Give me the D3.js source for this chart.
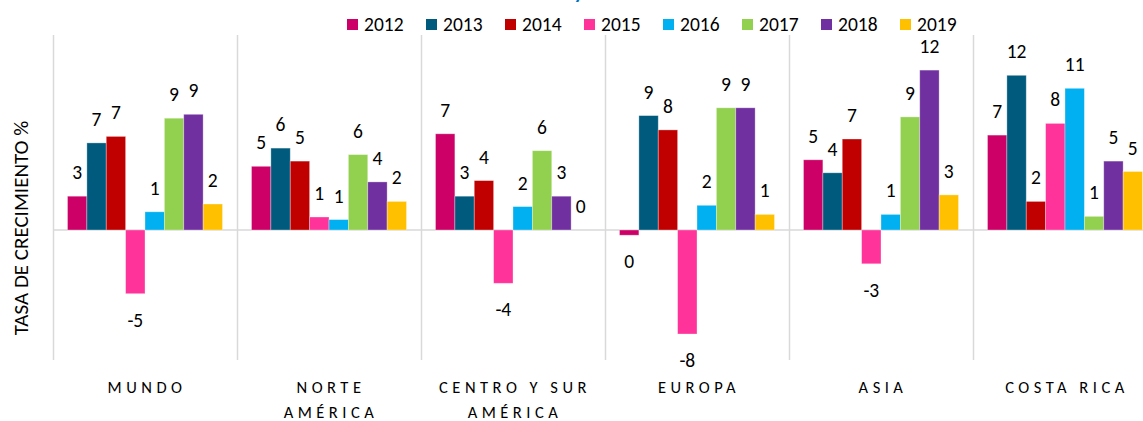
<!DOCTYPE html>
<html>
<head>
<meta charset="utf-8">
<script src="https://cdn.jsdelivr.net/npm/d3@7"></script>
<style>
    body { margin: 0; background: #fff; }
    text { font-family: Calibri, Carlito, "Liberation Sans", Arial, sans-serif; fill: #000; }
</style>
</head>
<body>
<div id="chart"></div>
<script>
// Regions (x-axis), two lines where the label wraps
const categories = ["MUNDO", "NORTE AMÉRICA", "CENTRO Y SUR AMÉRICA", "EUROPA", "ASIA", "COSTA RICA"];
const categoryLines = [["MUNDO"], ["NORTE", "AMÉRICA"], ["CENTRO Y SUR", "AMÉRICA"], ["EUROPA"], ["ASIA"], ["COSTA RICA"]];

const years = ["2012", "2013", "2014", "2015", "2016", "2017", "2018", "2019"];
const colors = ["#cc0066", "#005a7d", "#c00000", "#ff3399", "#00b0f0", "#92d050", "#7030a0", "#ffc000"];

// Growth rate per year, one value per region (same order as categories)
const values2012 = [2.6, 4.9, 7.4, -0.4, 5.4, 7.3];
const values2013 = [6.7, 6.3, 2.6, 8.8, 4.4, 11.9];
const values2014 = [7.2, 5.3, 3.8, 7.7, 7.0, 2.2];
const values2015 = [-4.9, 1.0, -4.1, -8.0, -2.6, 8.2];
const values2016 = [1.4, 0.8, 1.8, 1.9, 1.2, 10.9];
const values2017 = [8.6, 5.8, 6.1, 9.4, 8.7, 1.05];
const values2018 = [8.9, 3.7, 2.6, 9.4, 12.3, 5.3];
const values2019 = [2.0, 2.2, 0.0, 1.2, 2.7, 4.5];

const yDomain = [-10, 15];

const series = [values2012, values2013, values2014, values2015, values2016, values2017, values2018, values2019];

const WIDTH = 1143;
const HEIGHT = 421;
const PLOT_LEFT = 53;
const PLOT_TOP = 35;
const PLOT_BOTTOM = 360;
const GROUP_WIDTH = 184;

// Build flat table for the bars
let rows = [];
categories.forEach((cat, i) => {
    years.forEach((yr, j) => {
        rows.push({ category: cat, year: yr, value: series[j][i] });
    });
});

const svg = d3.select("#chart")
    .append("svg")
    .attr("width", WIDTH)
    .attr("height", HEIGHT);

// Scales
let xScale = d3.scaleBand()
    .domain(categories)
    .range([PLOT_LEFT, PLOT_LEFT + GROUP_WIDTH * categories.length])
    .padding(0);

let xSub = d3.scaleBand()
    .domain(years)
    .range([14.5, GROUP_WIDTH - 14.5])
    .padding(0);

let yScale = d3.scaleLinear()
    .domain(yDomain)
    .range([PLOT_BOTTOM, PLOT_TOP]);

let color = d3.scaleOrdinal()
    .domain(years)
    .range(colors);

// Partly hidden title above the chart
svg.append("text")
    .attr("x", 574)
    .attr("y", -1)
    .style("font-size", "20px")
    .style("font-weight", "bold")
    .style("fill", "#0070c0")
    .text("y");

// Vertical separators between regions
svg.append("g")
    .selectAll("line")
    .data(categories)
    .enter()
    .append("line")
    .attr("x1", d => xScale(d) + 0.5)
    .attr("x2", d => xScale(d) + 0.5)
    .attr("y1", PLOT_TOP)
    .attr("y2", PLOT_BOTTOM)
    .attr("stroke", "#d9d9d9")
    .attr("stroke-width", 1.5);

// Zero line
svg.append("line")
    .attr("x1", PLOT_LEFT)
    .attr("x2", WIDTH)
    .attr("y1", yScale(0))
    .attr("y2", yScale(0))
    .attr("stroke", "#d9d9d9")
    .attr("stroke-width", 1.5);

// Bars
const groups = svg.append("g")
    .selectAll("g")
    .data(categories)
    .enter()
    .append("g")
    .attr("transform", d => `translate(${xScale(d)},0)`);

groups.selectAll("rect")
    .data(d => rows.filter(r => r.category === d))
    .enter()
    .append("rect")
    .attr("x", d => xSub(d.year))
    .attr("y", d => yScale(Math.max(0, d.value)))
    .attr("width", xSub.bandwidth())
    .attr("height", d => Math.abs(yScale(d.value) - yScale(0)))
    .attr("fill", d => color(d.year))
    .attr("stroke", "#ffffff")
    .attr("stroke-opacity", 0.4)
    .attr("stroke-width", 0.8);

// Data labels (rounded)
const fmt = v => String(Math.round(v) === 0 ? 0 : Math.round(v));

groups.selectAll("text.value")
    .data(d => rows.filter(r => r.category === d))
    .enter()
    .append("text")
    .classed("value", true)
    .attr("x", d => xSub(d.year) + xSub.bandwidth() / 2)
    .attr("y", d => d.value >= 0 ? yScale(d.value) - 17 : yScale(d.value) + 33)
    .attr("text-anchor", "middle")
    .style("font-size", "19.5px")
    .text(d => fmt(d.value));

// Category labels
const catLabels = svg.append("g")
    .selectAll("text")
    .data(categories)
    .enter()
    .append("text")
    .attr("x", d => xScale(d) + GROUP_WIDTH / 2 + 2)
    .attr("y", 393)
    .attr("text-anchor", "middle")
    .style("font-size", "16.5px")
    .style("letter-spacing", "4.5px");

catLabels.selectAll("tspan")
    .data((d, i) => categoryLines[i])
    .enter()
    .append("tspan")
    .attr("x", function () { return d3.select(this.parentNode).attr("x"); })
    .attr("dy", (d, i) => i === 0 ? 0 : 25)
    .text(d => d);

// Y-axis title
svg.append("text")
    .attr("transform", `translate(28, 228) rotate(-90)`)
    .attr("text-anchor", "middle")
    .style("font-size", "21px")
    .text("TASA DE CRECIMIENTO %");

// Legend
const legend = svg.append("g")
    .selectAll("g")
    .data(years)
    .enter()
    .append("g")
    .attr("transform", (d, i) => `translate(${347 + i * 79}, 19)`);

legend.append("rect")
    .attr("width", 11)
    .attr("height", 11)
    .attr("fill", d => color(d));

legend.append("text")
    .attr("x", 17)
    .attr("y", 12)
    .style("font-size", "19.5px")
    .text(d => d);
</script>
</body>
</html>
